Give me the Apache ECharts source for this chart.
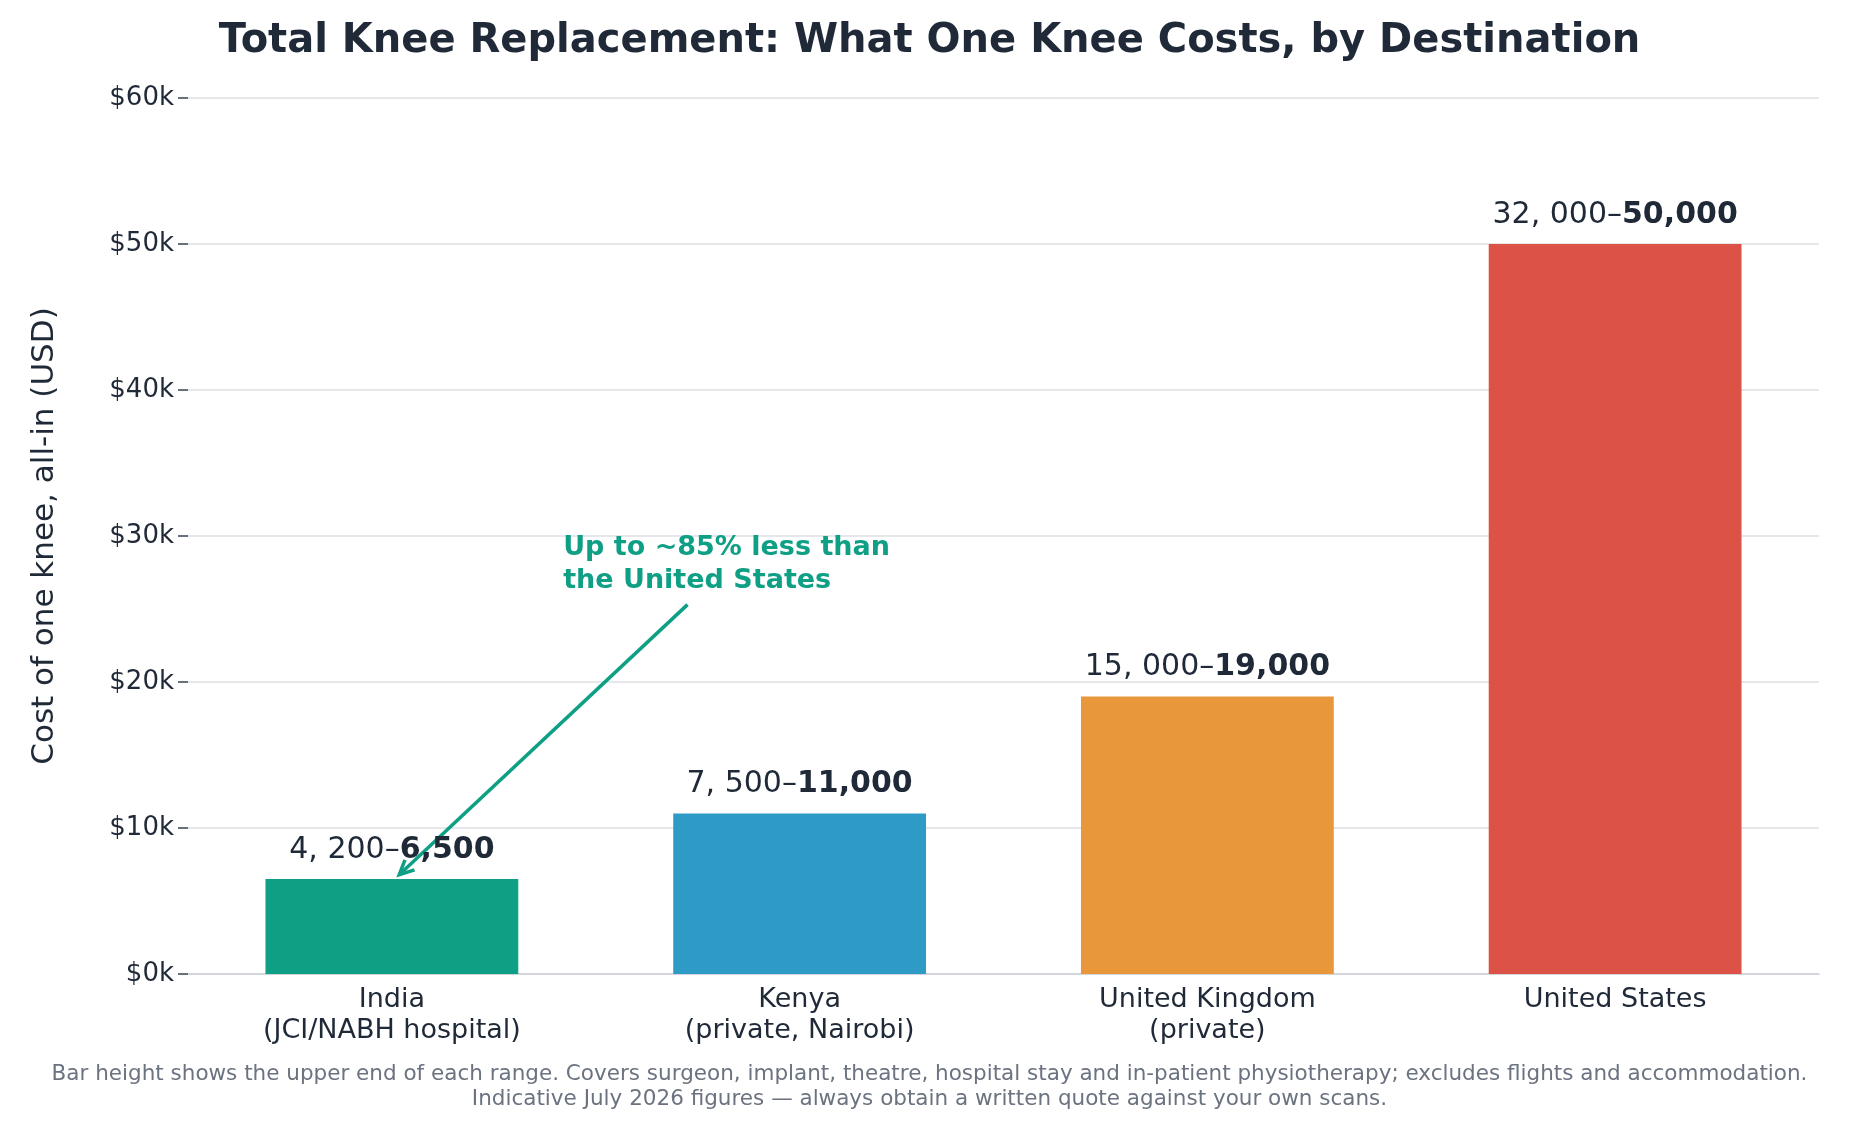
<!DOCTYPE html>
<html><head><meta charset="utf-8">
<script src="https://cdn.jsdelivr.net/npm/echarts@6/dist/echarts.min.js"></script>
<style>html,body{margin:0;padding:0;background:#fff}#c{width:1859px;height:1129px}</style>
</head><body><div id="c"></div>
<script>
const categories = ['India\n(JCI/NABH hospital)', 'Kenya\n(private, Nairobi)', 'United Kingdom\n(private)', 'United States'];
const lowValues = ['4, 200', '7, 500', '15, 000', '32, 000'];
const highValues = [6500, 11000, 19000, 50000];
const colors = ['#0e9f85', '#2e9bc6', '#e8973a', '#dc5246'];
const yTicks = [0, 10000, 20000, 30000, 40000, 50000, 60000];
const F = 'DejaVu Sans';
const footer = 'Bar height shows the upper end of each range. Covers surgeon, implant, theatre, hospital stay and in-patient physiotherapy; excludes flights and accommodation.\nIndicative July 2026 figures — always obtain a written quote against your own scans.';
const chart = echarts.init(document.getElementById('c'));
chart.setOption({
  animation: false,
  title: {text: 'Total Knee Replacement: What One Knee Costs, by Destination', left: 'center', top: 17,
    textStyle: {fontFamily: F, fontSize: 40, fontWeight: 'bold', color: '#1f2937'}},
  grid: {left: 188, right: 40, top: 98, bottom: 155},
  xAxis: {type: 'category', data: categories,
    axisLine: {lineStyle: {color: '#cbd0d8', width: 1.5}}, axisTick: {show: false},
    axisLabel: {fontFamily: F, fontSize: 27, color: '#1f2937', lineHeight: 31, margin: 10}},
  yAxis: {type: 'value', min: 0, max: 60000, interval: 10000,
    name: 'Cost of one knee, all-in (USD)', nameLocation: 'middle', nameGap: 128,
    nameTextStyle: {fontFamily: F, fontSize: 31, color: '#1f2937'},
    axisLine: {show: false}, axisTick: {show: true, length: 10, lineStyle: {color: '#374151', width: 1.5}},
    splitLine: {lineStyle: {color: '#e5e7eb', width: 2}},
    axisLabel: {fontFamily: F, fontSize: 26, color: '#1f2937', margin: 14,
      formatter: v => yTicks.includes(v) ? '$' + (v / 1000) + 'k' : ''}},
  series: [{type: 'bar', barCategoryGap: '38%',
    data: highValues.map((v, i) => ({value: v, itemStyle: {color: colors[i]}})),
    label: {show: true, position: 'top', distance: 14,
      formatter: p => '{r|' + lowValues[p.dataIndex] + '–}{b|' + highValues[p.dataIndex].toLocaleString('en-US') + '}',
      rich: {r: {fontFamily: F, fontSize: 30, color: '#1f2937'},
             b: {fontFamily: F, fontSize: 30, fontWeight: 'bold', color: '#1f2937'}}}}]
});
function px(x, y) {
  const c0 = chart.convertToPixel({xAxisIndex: 0}, 0), c1 = chart.convertToPixel({xAxisIndex: 0}, 1);
  return [c0 + (c1 - c0) * x, chart.convertToPixel({yAxisIndex: 0}, y)];
}
const tail = px(0.725, 25300), tip = px(0.018, 6800), txt = px(0.42, 30300);
const ang = Math.atan2(tip[1] - tail[1], tip[0] - tail[0]);
const h = 16, w = 0.45;
chart.setOption({graphic: [
  {type: 'text', left: 'center', top: 1062,
    style: {text: footer, fontFamily: F, fontSize: 21.5, fill: '#6b7280', textAlign: 'center', lineHeight: 25}},
  {type: 'text', x: txt[0], y: txt[1], style: {text: 'Up to ~85% less than\nthe United States', fontFamily: F, fontSize: 27, fontWeight: 'bold', fill: '#0e9f85', lineHeight: 33}},
  {type: 'line', shape: {x1: tail[0], y1: tail[1], x2: tip[0], y2: tip[1]}, style: {stroke: '#0e9f85', lineWidth: 3.5}},
  {type: 'polyline', shape: {points: [[tip[0] - h * Math.cos(ang - w), tip[1] - h * Math.sin(ang - w)], tip, [tip[0] - h * Math.cos(ang + w), tip[1] - h * Math.sin(ang + w)]]},
    style: {stroke: '#0e9f85', lineWidth: 3.5, fill: null}}
]});
</script></body></html>
